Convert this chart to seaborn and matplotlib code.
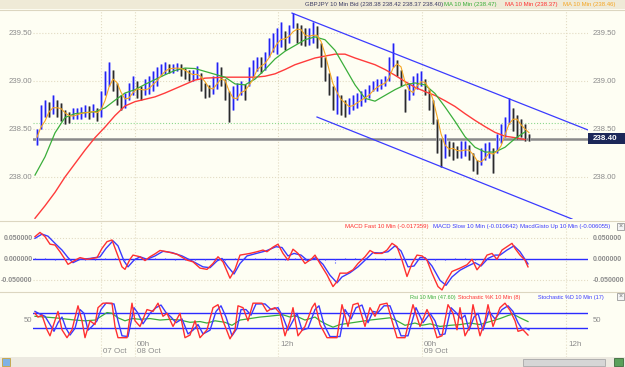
import numpy as np
import pandas as pd
import matplotlib
matplotlib.use("Agg")
import matplotlib.pyplot as plt
from matplotlib.patches import Rectangle
from matplotlib.lines import Line2D
import seaborn as sns

plt.rcParams['font.family'] = ['Liberation Sans', 'DejaVu Sans']

# time axis is in 5-minute steps; one price bar = 20 minutes (4 steps)
bar_lo = [238.33, 238.50, 238.62, 238.62, 238.66, 238.62, 238.58, 238.55, 238.56, 238.60,
          238.60, 238.60, 238.62, 238.60, 238.62, 238.58, 238.62, 238.85, 238.95, 238.90,
          238.75, 238.70, 238.72, 238.80, 238.85, 238.82, 238.80, 238.85, 238.86, 238.90,
          238.95, 239.05, 239.07, 239.08, 239.08, 239.10, 239.05, 239.02, 239.00, 239.00,
          239.02, 238.90, 238.82, 238.83, 238.86, 238.92, 238.95, 238.80, 238.57, 238.70,
          238.80, 238.85, 238.80, 238.95, 239.02, 239.10, 239.08, 239.12, 239.25, 239.30,
          239.28, 239.35, 239.32, 239.40, 239.55, 239.40, 239.38, 239.36, 239.38, 239.40,
          239.34, 239.15, 239.00, 238.85, 238.70, 238.66, 238.65, 238.63, 238.66, 238.70,
          238.72, 238.74, 238.78, 238.82, 238.90, 238.90, 238.92, 238.95, 239.00, 239.15,
          239.05, 238.95, 238.68, 238.80, 238.85, 238.92, 238.95, 238.85, 238.70, 238.55,
          238.25, 238.10, 238.20, 238.22, 238.18, 238.20, 238.20, 238.22, 238.18, 238.06,
          238.03, 238.12, 238.18, 238.20, 238.04, 238.25, 238.35, 238.42, 238.55, 238.48,
          238.40, 238.42, 238.38, 238.37]
bar_hi = [238.50, 238.75, 238.80, 238.78, 238.85, 238.80, 238.77, 238.70, 238.68, 238.72,
          238.72, 238.73, 238.75, 238.74, 238.76, 238.72, 238.90, 239.10, 239.20, 239.12,
          238.98, 238.85, 238.88, 238.98, 239.05, 239.00, 238.95, 239.02, 239.05, 239.10,
          239.15, 239.18, 239.20, 239.18, 239.18, 239.19, 239.18, 239.14, 239.12, 239.12,
          239.16, 239.08, 238.98, 238.96, 239.05, 239.20, 239.15, 239.02, 238.90, 238.95,
          238.98, 239.00, 238.97, 239.15, 239.22, 239.25, 239.25, 239.30, 239.45, 239.50,
          239.55, 239.62, 239.52, 239.58, 239.71, 239.60, 239.58, 239.55, 239.55, 239.62,
          239.57, 239.40, 239.25, 239.08, 238.95, 239.05, 238.85, 238.80, 238.82, 238.85,
          238.88, 238.90, 238.92, 238.96, 239.00, 239.02, 239.02, 239.05, 239.25, 239.40,
          239.22, 239.12, 238.92, 238.98, 239.05, 239.08, 239.10, 239.02, 238.92, 238.80,
          238.60, 238.40, 238.45, 238.38, 238.36, 238.32, 238.37, 238.38, 238.33, 238.25,
          238.18, 238.30, 238.35, 238.36, 238.30, 238.45, 238.55, 238.62, 238.82, 238.72,
          238.65, 238.60, 238.55, 238.45]

# moving averages sampled every 10 steps
ma_green = [238.02, 238.21, 238.46, 238.62, 238.66, 238.67, 238.68, 238.72, 238.80, 238.875,
            238.91, 238.965, 239.015, 239.065, 239.11, 239.135, 239.13, 239.10, 239.07, 239.04,
            238.97, 238.96, 239.02, 239.12, 239.23, 239.31, 239.37, 239.43, 239.46, 239.43,
            239.32, 239.14, 238.96, 238.82, 238.79, 238.85, 238.91, 238.96, 238.98, 238.96,
            238.87, 238.73, 238.58, 238.42, 238.31, 238.26, 238.26, 238.31, 238.40, 238.47]
ma_red = [237.57, 237.70, 237.84, 238.00, 238.14, 238.28, 238.41, 238.52, 238.64, 238.74,
          238.785, 238.81, 238.835, 238.875, 238.92, 238.965, 239.01, 239.03, 239.035, 239.04,
          239.04, 239.04, 239.04, 239.05, 239.075, 239.12, 239.17, 239.205, 239.24, 239.26,
          239.28, 239.28, 239.24, 239.205, 239.17, 239.12, 239.06, 238.995, 238.935, 238.89,
          238.85, 238.795, 238.735, 238.66, 238.59, 238.525, 238.465, 238.425, 238.41, 238.39]

chan_up_t, chan_up_p = [257, 553], [239.708, 238.49]
chan_dn_t, chan_dn_p = [282, 537], [238.625, 237.5625]

macd_fast_t = [0, 5, 10, 15, 20, 25, 30, 33, 38, 45, 52, 62, 67, 72, 77, 82, 87, 90, 95, 98,
               105, 110, 115, 120, 125, 132, 142, 152, 158, 165, 172, 178, 183, 188, 195, 200,
               205, 215, 222, 228, 232, 238, 243, 248, 253, 258, 263, 270, 277, 280, 285, 292,
               298, 302, 305, 312, 318, 323, 330, 335, 340, 347, 352, 357, 362, 367, 372, 377,
               382, 387, 392, 397, 403, 407, 412, 417, 425, 432, 437, 442, 447, 452, 457, 462,
               467, 472, 477, 480, 485, 490, 493]
macd_fast = [.054, .064, .054, .036, .034, .018, 0, -.012, -.005, .004, 0, .004, .026, .042, .046,
             .014, -.018, -.024, 0, .01, .006, -.003, .006, .013, .021, .018, .012, -.002, -.006,
             -.021, -.024, -.01, .006, -.006, -.045, -.024, .01, .014, .018, .022, .018, .029,
             .036, .014, -.002, .024, .014, -.01, .002, .01, -.01, -.037, -.065, -.053, -.033,
             -.033, -.025, -.01, .006, .021, .014, .014, .022, .038, .03, -.002, -.041, -.01,
             .01, .008, -.002, -.033, -.065, -.073, -.049, -.029, -.021, -.013, 0, -.025, -.01,
             .01, .014, 0, .022, .03, .038, .026, .01, -.002, -.018]
macd_slow_t = [0, 7, 13, 20, 27, 33, 38, 45, 55, 65, 71, 78, 83, 89, 93, 99, 105, 112, 120, 128,
               137, 147, 157, 168, 175, 182, 187, 193, 199, 205, 212, 223, 231, 241, 247, 253,
               259, 266, 273, 281, 288, 295, 302, 307, 315, 323, 331, 338, 345, 353, 360, 366,
               373, 379, 385, 390, 397, 405, 411, 417, 425, 433, 440, 446, 453, 460, 465, 472,
               479, 485, 493]
macd_slow = [.050, .060, .055, .038, .022, .004, -.008, 0, .002, .006, .026, .044, .032, -.004,
             -.018, -.002, .006, 0, .008, .019, .016, .008, -.004, -.018, -.020, -.004, .002,
             -.018, -.035, -.010, .008, .015, .020, .030, .028, .008, .014, .010, -.004, .004,
             -.012, -.038, -.056, -.042, -.032, -.018, 0, .016, .015, .018, .032, .020, -.018,
             -.016, .004, .004, -.016, -.050, -.062, -.042, -.026, -.016, -.008, -.016, .002,
             .010, .010, .022, .032, .018, -.011]
macd_hist = [.002, .002, -.001, -.003, -.003, -.002, -.002, .004, .006, -.006, .003, -.002, .002,
             .002, -.001, -.002, -.003, -.002, .002, -.004, .004, .003, .003, .003, .004, -.002,
             .003, -.003, .004, -.006, -.008, .004, .005, .004, .002, -.002, .004, -.006, .005,
             .002, -.006, -.007, .003, .002, -.003, .002, .003, .003, .004, -.006]

stoch_k_t = [0, 3, 7, 12, 15, 18, 23, 27, 32, 37, 43, 47, 50, 55, 60, 63, 68, 77, 80, 83, 92, 97,
             100, 105, 112, 118, 123, 128, 132, 138, 145, 150, 155, 160, 165, 172, 178, 183, 188,
             195, 200, 203, 208, 213, 218, 227, 232, 235, 240, 245, 250, 255, 258, 263, 270, 277,
             280, 285, 292, 302, 307, 313, 318, 323, 330, 335, 340, 345, 352, 357, 362, 370, 378,
             385, 392, 397, 402, 407, 413, 418, 422, 425, 430, 435, 438, 445, 450, 453, 458, 465,
             470, 475, 480, 483, 488, 493]
stoch_k = [70, 60, 65, 26, 10, 35, 75, 26, 5, 26, 90, 50, 5, 50, 40, 85, 97, 97, 35, 5, 5, 97,
           50, 35, 80, 75, 97, 62, 70, 35, 70, 5, 12, 50, 5, 26, 85, 93, 50, 2, 26, 90, 85, 50,
           97, 97, 75, 80, 85, 70, 10, 50, 85, 10, 35, 85, 97, 40, 5, 5, 93, 35, 93, 97, 35, 85,
           62, 93, 97, 50, 5, 5, 93, 35, 80, 50, 5, 10, 93, 70, 26, 85, 10, 35, 93, 10, 50, 93,
           35, 85, 97, 78, 50, 22, 26, 12]
stoch_d_t = [0, 5, 10, 15, 19, 23, 27, 31, 35, 40, 45, 49, 53, 57, 62, 66, 71, 79, 83, 87, 93, 99,
             103, 108, 115, 121, 126, 131, 136, 141, 147, 153, 158, 163, 168, 175, 181, 186, 191,
             197, 202, 206, 211, 216, 221, 230, 236, 243, 248, 253, 258, 262, 267, 273, 280, 284,
             289, 295, 305, 310, 316, 321, 327, 333, 338, 343, 349, 355, 360, 366, 373, 381, 388,
             395, 400, 405, 410, 416, 421, 426, 430, 434, 439, 443, 448, 454, 460, 467, 473, 478,
             483, 487, 491, 494]
stoch_d = [75, 68, 62, 40, 22, 45, 60, 30, 12, 30, 80, 70, 25, 35, 50, 80, 97, 95, 50, 10, 8, 85,
           70, 42, 70, 85, 92, 72, 60, 45, 55, 15, 25, 40, 15, 25, 75, 90, 60, 10, 30, 80, 80, 65,
           95, 95, 80, 85, 60, 25, 50, 70, 25, 30, 80, 90, 40, 8, 8, 80, 55, 85, 92, 45, 75, 72,
           90, 90, 55, 10, 10, 85, 45, 70, 50, 12, 15, 85, 72, 55, 65, 25, 60, 70, 25, 75, 55, 80,
           90, 75, 45, 28, 30, 26]
rsi_t = [0, 10, 20, 30, 40, 50, 60, 65, 72, 77, 83, 90, 97, 105, 115, 125, 135, 145, 155, 165,
         172, 180, 190, 197, 205, 215, 225, 233, 240, 248, 255, 260, 265, 270, 275, 280, 285, 292,
         298, 305, 315, 325, 335, 345, 355, 362, 370, 380, 387, 395, 405, 415, 425, 435, 445, 455,
         465, 473, 478, 485, 493]
rsi = [62, 60, 58, 55, 52, 50, 52, 60, 72, 70, 58, 50, 56, 54, 56, 52, 54, 52, 46, 48, 44, 50,
       46, 38, 52, 56, 60, 62, 64, 66, 60, 64, 58, 52, 56, 60, 50, 40, 33, 40, 44, 48, 52, 55, 58,
       50, 38, 44, 38, 42, 35, 38, 40, 44, 40, 48, 56, 64, 68, 58, 48]

time_ticks = [66, 100, 243, 387, 531]
time_labels = ["\n07 Oct", "00h\n08 Oct", "12h", "00h\n09 Oct", "12h"]

W, H = 625, 367
BG = '#FEFEF3'
GRID = '#E2DBC3'
LBL = '#8c8c8c'


def rect(px0, py0, px1, py1):
    return [px0 / W, 1 - py1 / H, (px1 - px0) / W, (py1 - py0) / H]


def side_labels(ax, vals, texts, size=5.6, bold=False):
    tr = ax.get_yaxis_transform()
    for v, s in zip(vals, texts):
        kw = dict(transform=tr, va='center', fontsize=size, color=LBL,
                  fontweight='bold' if bold else 'normal')
        ax.text(-0.001, v, s, ha='right', **kw)
        ax.text(1.008, v, s, ha='left', **kw)


fig = plt.figure(figsize=(W / 100, H / 100), dpi=100, facecolor=BG)
ax1 = fig.add_axes(rect(33, 10, 588, 219))
ax2 = fig.add_axes(rect(33, 221, 588, 291))
ax3 = fig.add_axes(rect(33, 292, 588, 342))
for ax in (ax1, ax2, ax3):
    ax.set_facecolor(BG)
    ax.set_xlim(-2, 553)
    ax.set_xticks([])
    ax.set_yticks([])
    for s in ax.spines.values():
        s.set_visible(False)
    for t in time_ticks:
        ax.axvline(t, color=GRID, lw=0.8, ls=':', zorder=0)
for t in time_ticks:
    ax3.axvline(t, ymin=-0.3, ymax=0, color=GRID, lw=0.8, ls=':', clip_on=False)

# ---- price panel
ax1.set_ylim(237.5625, 239.74)
price_ticks = [238.0, 238.5, 239.0, 239.5]
for v in price_ticks:
    ax1.axhline(v, color=GRID, lw=0.8, ls=':', zorder=0)
side_labels(ax1, price_ticks, ['%.2f' % v for v in price_ticks])
ax1.axhline(238.565, color='#8ed88e', lw=0.8, ls=':', zorder=1)
ax1.axhline(238.40, color='#8a8a8a', lw=1.8, zorder=1)

lo = np.array(bar_lo)
hi = np.array(bar_hi)
mid = (lo + hi) / 2
bt = 2 + 4 * np.arange(len(lo))
up = np.r_[True, np.diff(mid) >= 0]
ax1.vlines(bt[up], lo[up], hi[up], colors='#b4b4ff', lw=2.0, zorder=2)
ax1.vlines(bt[~up], lo[~up], hi[~up], colors='#b0b0b0', lw=2.0, zorder=2)
ax1.vlines(bt[up], lo[up], hi[up], colors='#2323f0', lw=0.9, zorder=3)
ax1.vlines(bt[~up], lo[~up], hi[~up], colors='#2a2a2a', lw=0.9, zorder=3)

ma_t = 10 * np.arange(len(ma_green))
sns.lineplot(x=ma_t, y=ma_red, ax=ax1, color='#ff3b3b', lw=1.0, legend=False, zorder=4)
sns.lineplot(x=ma_t, y=ma_green, ax=ax1, color='#3aae3a', lw=0.9, legend=False, zorder=4)
fast_ma = pd.Series(mid).rolling(3, min_periods=1).mean()
sns.lineplot(x=bt, y=fast_ma, ax=ax1, color='#f5a623', lw=0.8, legend=False, zorder=5)
ax1.plot(chan_up_t, chan_up_p, color='#3b3bff', lw=0.9, zorder=4)
ax1.plot(chan_dn_t, chan_dn_p, color='#3b3bff', lw=0.9, zorder=4)

# ---- MACD panel
ax2.set_ylim(-0.0755, 0.0912)
macd_ticks = [-0.05, 0.0, 0.05]
for v in (-0.05, 0.05):
    ax2.axhline(v, color=GRID, lw=0.8, ls=':', zorder=0)
side_labels(ax2, macd_ticks, ['-0.050000', '0.000000', '0.050000'], size=5.0, bold=True)
ax2.axhline(0, color='#2b2bff', lw=1.0, zorder=2)
ht = 10 * np.arange(len(macd_hist))
ax2.vlines(ht, 0, macd_hist, colors='#4a4aff', lw=0.8, ls=':', zorder=2)
sns.lineplot(x=macd_slow_t, y=macd_slow, ax=ax2, color='#3a3aff', lw=1.0, legend=False, zorder=3)
sns.lineplot(x=macd_fast_t, y=macd_fast, ax=ax2, color='#ff3030', lw=1.0, legend=False, zorder=4)

# ---- RSI / stochastic panel
ax3.set_ylim(-6.5, 126.8)
ax3.axhline(70, color='#2b2bff', lw=1.0, zorder=2)
ax3.axhline(30, color='#2b2bff', lw=1.0, zorder=2)
side_labels(ax3, [50], ['50'])
sns.lineplot(x=rsi_t, y=rsi, ax=ax3, color='#3aae3a', lw=0.9, legend=False, zorder=3)
sns.lineplot(x=stoch_d_t, y=stoch_d, ax=ax3, color='#3a3aff', lw=1.0, legend=False, zorder=4)
sns.lineplot(x=stoch_k_t, y=stoch_k, ax=ax3, color='#ff3030', lw=1.0, legend=False, zorder=5)
for t, s in zip(time_ticks, time_labels):
    ax3.text(t + 2, 0.02, s, transform=ax3.get_xaxis_transform(), ha='left', va='top',
             fontsize=5.8, color=LBL, linespacing=1.0)

for ax in (ax1, ax2, ax3):
    ax.set_xlabel('')
    ax.set_ylabel('')

# ---- chrome: header, separators, legends, price box, scrollbar
fig.add_artist(Rectangle((0, 1 - 9 / H), 1, 9 / H, transform=fig.transFigure,
                         facecolor='#EFEAD7', edgecolor='none'))
for py in (9.5, 220.5, 291.5):
    fig.add_artist(Line2D([0, 1], [1 - py / H] * 2, transform=fig.transFigure,
                          color='#DCD6C0', lw=0.8))


def legend_row(py, items, size=4.3):
    for px, txt, col in items:
        fig.text(px / W, 1 - py / H, txt, fontsize=size, color=col, ha='left', va='center')


legend_row(4.5, [(305, 'GBPJPY 10 Min Bid (238.38 238.42 238.37 238.40)', '#3c3c64'),
                 (444, 'MA 10 Min (238.47)', '#3aae3a'),
                 (505, 'MA 10 Min (238.37)', '#ff3030'),
                 (563, 'MA 10 Min (238.46)', '#f5a623')])
legend_row(226.5, [(345, 'MACD Fast 10 Min (-0.017359)', '#ff3030'),
                   (433, 'MACD Slow 10 Min (-0.010642)', '#3a3aff'),
                   (520, 'MacdGisto Up 10 Min (-0.006055)', '#3a3aff')])
legend_row(297, [(410, 'Rsi 10 Min (47.60)', '#3aae3a'),
                 (458, 'Stochastic %K 10 Min (8)', '#ff3030'),
                 (538, 'Stochastic %D 10 Min (17)', '#3a3aff')], size=4.0)
for py in (223, 293):
    fig.add_artist(Rectangle((617 / W, 1 - (py + 7) / H), 7 / W, 7 / H, transform=fig.transFigure,
                             facecolor='#F4F4F4', edgecolor='#9a9a9a', lw=0.6))
    fig.text(620.5 / W, 1 - (py + 3.5) / H, '×', fontsize=5, color='#707070',
             ha='center', va='center')

fig.add_artist(Rectangle((588 / W, 1 - 144 / H), 37 / W, 11 / H, transform=fig.transFigure,
                         facecolor='#1c2758', edgecolor='none'))
fig.text(593 / W, 1 - 138.5 / H, '238.40', fontsize=5.8, color='white', fontweight='bold',
         ha='left', va='center')

fig.add_artist(Rectangle((0, 0), 1, 10 / H, transform=fig.transFigure,
                         facecolor='#ECE9E0', edgecolor='none'))
fig.add_artist(Rectangle((523 / W, 1.5 / H), 82 / W, 7 / H, transform=fig.transFigure,
                         facecolor='#D6D6D6', edgecolor='#A8A8A8', lw=0.6))
fig.add_artist(Rectangle((2 / W, 1 / H), 8 / W, 8 / H, transform=fig.transFigure,
                         facecolor='#7fb2e5', edgecolor='#c9a23a', lw=0.6))
fig.add_artist(Rectangle((614 / W, 1 / H), 9 / W, 8 / H, transform=fig.transFigure,
                         facecolor='#5aa05a', edgecolor='#3c6a3c', lw=0.6))

fig.savefig('out.png', dpi=100, facecolor=BG)
